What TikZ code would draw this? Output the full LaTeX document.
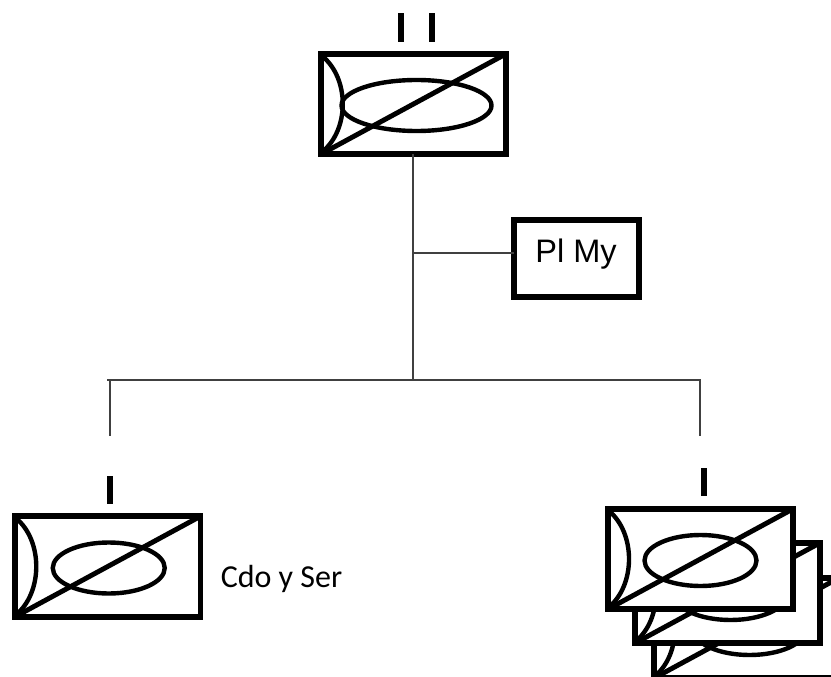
\documentclass[tikz,border=0pt]{standalone}
\usepackage{fontspec}
\setmainfont{Liberation Sans}
\newfontfamily\carlitofont{Carlito}
\usetikzlibrary{calc}
\tikzset{
  x=0.75pt, y=-0.75pt,
  thinline/.style={draw=black!75, line width=1pt},
  unitbox/.style={draw=black, line width=4.3pt, fill=white, rectangle, outer sep=0pt, inner sep=0pt, minimum width=139.1pt, minimum height=75.4pt},
  diagline/.style={draw=black, line width=3.7pt},
  symline/.style={draw=black, line width=3.3pt},
  echelon/.style={fill=black, draw=none, rectangle, inner sep=0pt, minimum width=4.6pt, minimum height=21.4pt},
  staffbox/.style={draw=black, line width=4.5pt, fill=white, rectangle, outer sep=0pt, inner sep=0pt, minimum width=94pt, minimum height=57.8pt},
  stafftext/.style={font=\fontsize{24.4}{28}\selectfont, anchor=base, inner sep=0pt},
  sidetext/.style={font=\carlitofont\fontsize{24}{28}\selectfont, anchor=base west, inner sep=0pt}
}
% #1 name, #2 centre x, #3 centre y, #4 ellipse offset, #5 ellipse x radius, #6 curve reach
\newcommand{\unitsymbol}[6]{%
  \node[unitbox] (#1) at (#2,#3) {};
  \draw[symline] ($(#1.north west)+(1,2)$) .. controls ($(#1.west)+(#6,-26)$) and ($(#1.west)+(#6,26)$) .. ($(#1.south west)+(1,-2)$);
  \draw[symline] ($(#1.center)+(#4,1.5)$) ellipse [x radius=#5, y radius=25.5];
  \draw[diagline] (#1.south west) -- (#1.north east);
}
\begin{document}
\begin{tikzpicture}
\useasboundingbox (0,0) rectangle (831,677);
\clip (0,0) rectangle (831,677);

\unitsymbol{top}{413.5}{104}{3}{75}{29}
\node[echelon] (tickA) at (401.2,27.5) {};
\node[echelon] (tickB) at (432,27.5) {};

\node[staffbox] (staff) at (576.5,258.5) {};
\node[stafftext] (stafflabel) at (576,262.7) {Pl My};

\unitsymbol{left}{107.75}{566.5}{1}{56}{28}
\node[echelon] (tickL) at (110.3,490) {};
\node[sidetext] (sidelabel) at (220.5,587) {Cdo y Ser};

\unitsymbol{third}{746.5}{628}{3}{56}{28}
\unitsymbol{second}{727.5}{593}{3}{56}{28}
\unitsymbol{first}{700.5}{559}{0}{56}{28}
\node[echelon] (tickR) at (703.7,482) {};

\coordinate (branch) at (413,253);
\coordinate (bus) at (413,380);
\coordinate (busL) at (107,380);
\coordinate (busR) at (701,380);
\coordinate (endL) at (110,436);
\coordinate (endR) at (700,436);
\draw[thinline] (top.south -| bus) -- (bus);
\draw[thinline] (branch) -- (branch -| staff.west);
\draw[thinline] (busL) -- (busR);
\draw[thinline] (endL |- bus) -- (endL);
\draw[thinline] (endR |- bus) -- (endR);
\end{tikzpicture}
\end{document}
